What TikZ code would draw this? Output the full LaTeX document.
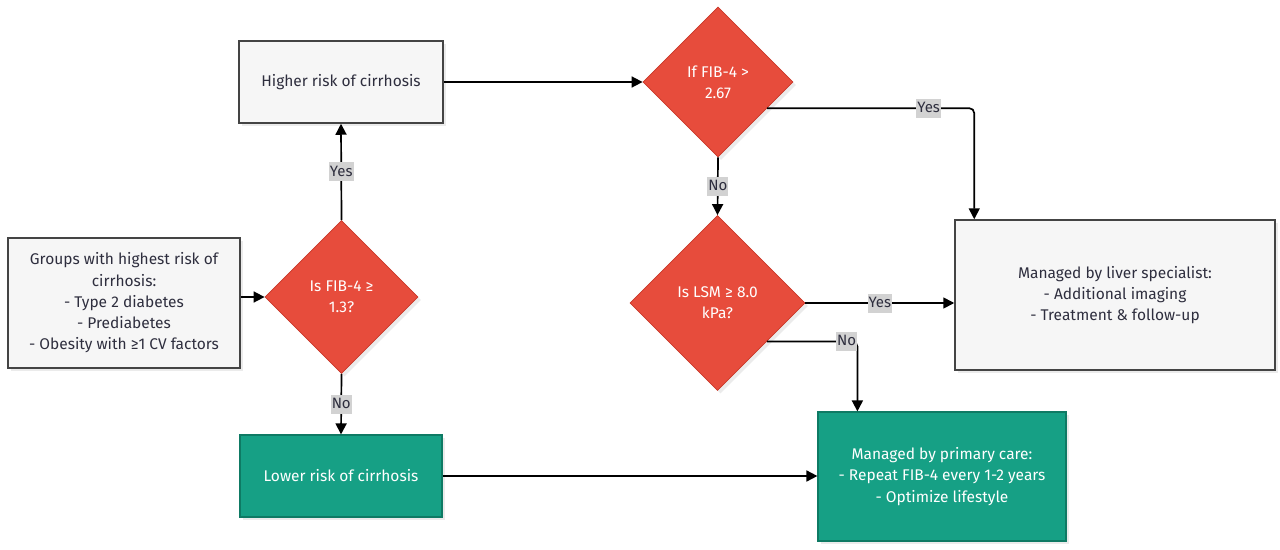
\documentclass[tikz,border=0pt]{standalone}
\usepackage{fontspec}
\setmainfont{Fira Sans}
\usetikzlibrary{shapes.geometric,arrows.meta,shadows,calc}
\definecolor{boxfill}{HTML}{F6F6F6}
\definecolor{boxline}{HTML}{444444}
\definecolor{redfill}{HTML}{E74C3C}
\definecolor{redline}{HTML}{C9382A}
\definecolor{tealfill}{HTML}{16A085}
\definecolor{tealline}{HTML}{0E7A64}
\definecolor{txt}{HTML}{2E2E3E}
\definecolor{lblbg}{HTML}{D2D2D2}
\tikzset{
  base/.style={font=\fontsize{15.5}{21.3}\selectfont, align=center, inner sep=0pt,
    drop shadow={shadow xshift=3pt, shadow yshift=-3pt, fill=black, opacity=0.08}},
  graybox/.style={base, rectangle, draw=boxline, line width=1.5pt, fill=boxfill, text=txt},
  tealbox/.style={base, rectangle, draw=tealline, line width=1.2pt, fill=tealfill, text=white},
  decision/.style={base, diamond, aspect=1, draw=redline, line width=0.8pt, fill=redfill, text=white},
  conn/.style={line width=1.7pt, -{Triangle[length=11pt,width=11pt]}, rounded corners=5pt},
  lbl/.style={sharp corners, fill=lblbg, text=txt, inner xsep=1pt, inner ysep=3pt,
    text height=11pt, text depth=2pt, font=\fontsize{15}{16}\selectfont}
}
\begin{document}
\begin{tikzpicture}[x=1pt,y=-1pt]
\useasboundingbox (0,0) rectangle (1280,549);

\node[graybox, minimum width=232pt, minimum height=130pt] (groups) at (124,303)
  {Groups with highest risk of\\cirrhosis:\\- Type 2 diabetes\\- Prediabetes\\- Obesity with ≥1 CV factors};
\node[decision, minimum width=153pt, minimum height=153pt] (d1) at (341.5,297)
  {Is FIB-4 ≥\\1.3?};
\node[graybox, minimum width=204pt, minimum height=82pt] (higher) at (341,82)
  {Higher risk of cirrhosis};
\node[tealbox, minimum width=202pt, minimum height=82pt] (lower) at (341,476)
  {Lower risk of cirrhosis};
\node[decision, minimum width=150pt, minimum height=150pt] (d2) at (718,82)
  {If FIB-4 >\\2.67};
\node[decision, minimum width=175pt, minimum height=175pt] (d3) at (717.5,303)
  {Is LSM ≥ 8.0\\kPa?};
\node[graybox, minimum width=320pt, minimum height=150pt] (liver) at (1115,295)
  {Managed by liver specialist:\\- Additional imaging\\- Treatment \& follow-up};
\node[tealbox, minimum width=248pt, minimum height=129pt] (primary) at (942,476.5)
  {Managed by primary care:\\- Repeat FIB-4 every 1-2 years\\- Optimize lifestyle};

\coordinate (d2out) at ($(d2.east)!0.347!(d2.south)$);
\coordinate (liverin) at ($(liver.north west)+(20,0)$);
\coordinate (d3out) at ($(d3.east)!0.437!(d3.south)$);
\coordinate (primin) at ($(primary.north west)+(40,0)$);

\draw[conn] (groups.east |- d1.west) -- (d1.west);
\draw[conn] (d1.north) -- node[lbl]{Yes} (higher.south);
\draw[conn] (d1.south) -- node[lbl]{No} (lower.north);
\draw[conn] (higher.east) -- (d2.west);
\draw[conn] (d2out) -- node[lbl, pos=0.78]{Yes} (d2out -| liverin) -- (liverin);
\draw[conn] (d2.south) -- node[lbl]{No} (d3.north);
\draw[conn] (d3.east) -- node[lbl]{Yes} (liver.west |- d3.east);
\draw[conn] (d3out) -- node[lbl, pos=0.88]{No} (d3out -| primin) -- (primin);
\draw[conn] (lower.east) -- (primary.west |- lower.east);
\end{tikzpicture}
\end{document}
